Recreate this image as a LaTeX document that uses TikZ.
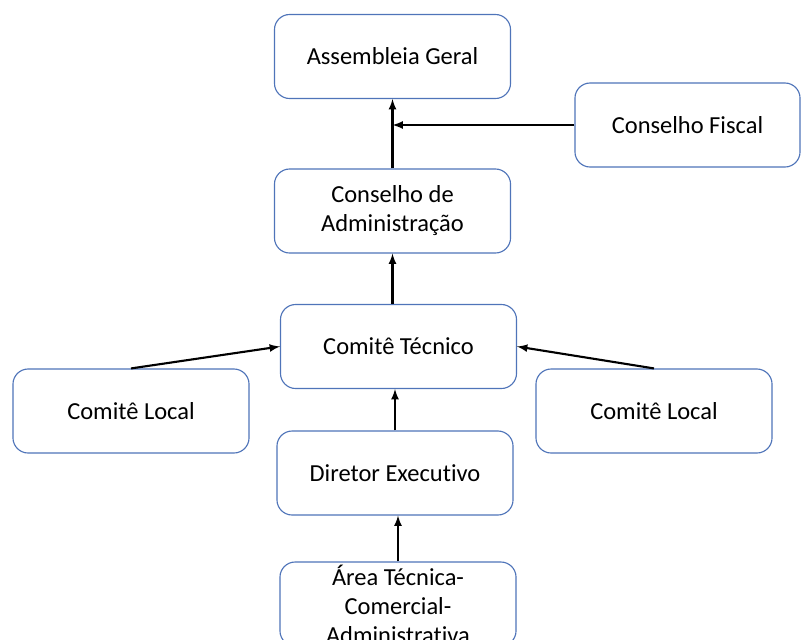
\documentclass[tikz,border=0pt]{standalone}
\usepackage{fontspec}
\setmainfont[Ligatures=NoCommon]{Carlito}
\usetikzlibrary{positioning,shapes,arrows}
\definecolor{boxblue}{HTML}{4F74B9}

\begin{document}
\begin{tikzpicture} [x=0.025cm, y=-0.025cm,
    orgbox/.style={draw=boxblue, line width=0.8pt, rounded corners=0.38cm, fill=white,
        minimum width=5.9cm, minimum height=2.1cm, inner sep=0pt, align=center,
        font=\fontsize{17.4}{20.6}\selectfont},
    link/.style={-latex, line width=1.5pt, black}]
\clip (0,0) rectangle (802,639);

% boxes
\node[orgbox] (assembleia) at (392.5,56.5) {Assembleia Geral};
\node[orgbox, minimum width=5.625cm] (fiscal) at (687.5,125) {Conselho Fiscal};
\node[orgbox] (conselho) at (392.5,211) {Conselho de\\Administração};
\node[orgbox] (comite) at (398.5,346.5) {Comitê Técnico};
\node[orgbox] (localA) at (131,411) {Comitê Local};
\node[orgbox] (localB) at (654,411) {Comitê Local};
\node[orgbox] (diretor) at (395,473) {Diretor Executivo};
\node[orgbox] (area) at (398,604) {Área Técnica-\\Comercial-\\Administrativa};

% arrows
\draw[link] (conselho.north) -- (assembleia.south);
\draw[link] (fiscal.west) -- (fiscal.west -| assembleia.south);
\draw[link] (conselho.south |- comite.north) -- (conselho.south);
\draw[link] (localA.north) -- (comite.west);
\draw[link] (localB.north) -- (comite.east);
\draw[link] (diretor.north) -- (diretor.north |- comite.south);
\draw[link] (area.north) -- (area.north |- diretor.south);

\end{tikzpicture}
\end{document}
